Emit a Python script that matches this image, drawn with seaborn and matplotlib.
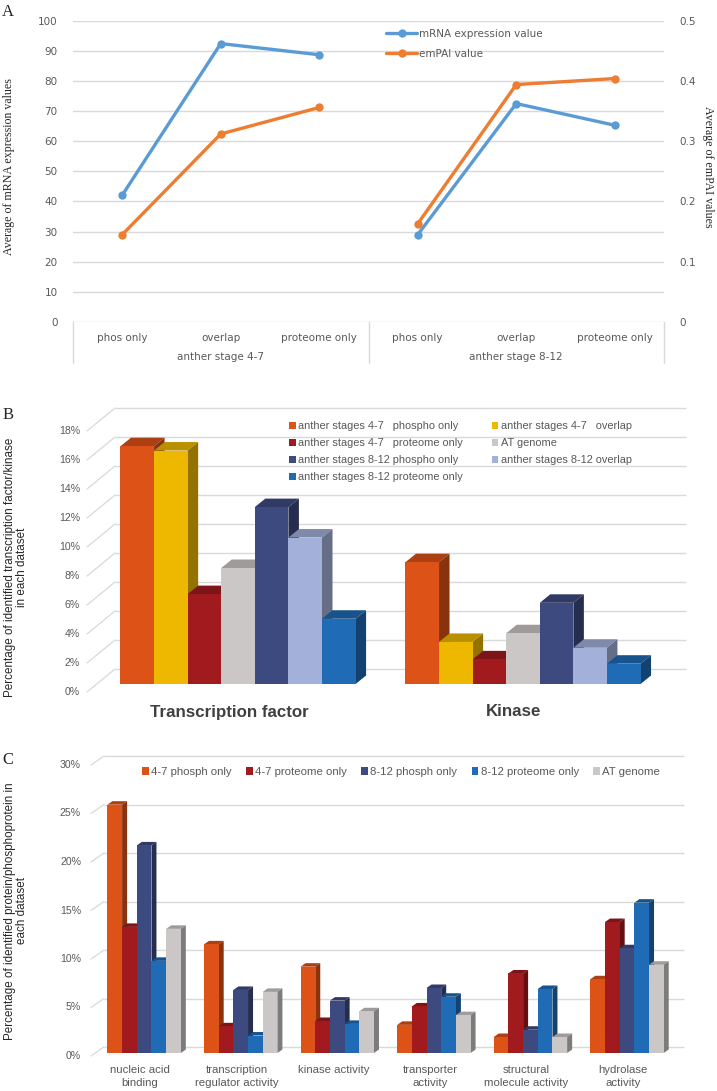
import numpy as np
import pandas as pd
import matplotlib
matplotlib.use("Agg")
import matplotlib.pyplot as plt
import matplotlib.colors as mcolors
import matplotlib.transforms as mtrans
from matplotlib.patches import Polygon, Patch, Rectangle
from matplotlib.lines import Line2D
import seaborn as sns

# ---------------- data ----------------
# Panel A
a_stages = ["anther stage 4-7", "anther stage 8-12"]
a_categories = ["phos only", "overlap", "proteome only"]
a_mrna = [42.1, 92.4, 88.7, 29.0, 72.5, 65.3]
a_empai = [0.145, 0.312, 0.356, 0.163, 0.394, 0.404]
a_left_ticks = [0, 10, 20, 30, 40, 50, 60, 70, 80, 90, 100]
a_right_ticks = [0, 0.1, 0.2, 0.3, 0.4, 0.5]
a_right_ticklabels = ["0", "0.1", "0.2", "0.3", "0.4", "0.5"]

# Panel B
b_categories = ["Transcription factor", "Kinase"]
b_series = ["anther stages 4-7   phospho only", "anther stages 4-7   overlap",
            "anther stages 4-7   proteome only", "AT genome",
            "anther stages 8-12 phospho only", "anther stages 8-12 overlap",
            "anther stages 8-12 proteome only"]
b_tf = [16.4, 16.1, 6.2, 8.0, 12.2, 10.1, 4.5]
b_kinase = [8.4, 2.9, 1.7, 3.5, 5.6, 2.5, 1.4]
b_ticks = [0, 2, 4, 6, 8, 10, 12, 14, 16, 18]

# Panel C
c_categories = ["nucleic acid\nbinding", "transcription\nregulator activity", "kinase activity",
                "transporter\nactivity", "structural\nmolecule activity", "hydrolase\nactivity"]
c_series = ["4-7 phosph only", "4-7 proteome only", "8-12 phosph only", "8-12 proteome only", "AT genome"]
c_phosph47 = [25.6, 11.2, 8.9, 2.9, 1.65, 7.6]
c_prot47 = [13.0, 2.75, 3.3, 4.8, 8.2, 13.5]
c_phosph812 = [21.4, 6.5, 5.4, 6.7, 2.4, 10.8]
c_prot812 = [9.5, 1.8, 3.0, 5.8, 6.6, 15.5]
c_genome = [12.8, 6.3, 4.3, 3.9, 1.65, 9.1]
c_ticks = [0, 5, 10, 15, 20, 25, 30]

# ---------------- style ----------------
BLUE_A = "#5B9BD5"
ORANGE_A = "#ED7D31"
b_colors = ["#DC5217", "#EFB800", "#A01A1E", "#CAC7C6", "#3D4A80", "#A3B0DA", "#1F6BB5"]
c_colors = ["#DC5217", "#A01A1E", "#3D4A80", "#1F6BB5", "#CAC7C6"]
GRID = "#D9D9D9"
TXT = "#595959"

sns.set_style("white")
plt.rcParams["font.family"] = ["Liberation Sans", "DejaVu Sans"]

W, H = 717, 1091
fig = plt.figure(figsize=(W / 100, H / 100), dpi=100)


def axes_px(left, top, right, bottom):
    return fig.add_axes([left / W, 1 - bottom / H, (right - left) / W, (bottom - top) / H])


def pix2data(ax, xp, yp):
    """image pixel (origin top-left) -> data coords of ax"""
    return ax.transData.inverted().transform((xp, H - yp))


def shade(c, f):
    r, g, b = mcolors.to_rgb(c)
    return (r * f, g * f, b * f)


# ================= Panel A =================
axA = axes_px(73, 20.7, 664, 322)
axA2 = axA.twinx()
pos = np.arange(6)
dfA = pd.DataFrame({"pos": pos,
                    "stage": [s for s in a_stages for _ in a_categories],
                    "category": a_categories * 2,
                    "mrna": a_mrna, "empai": a_empai})
for st in a_stages:
    sub = dfA[dfA["stage"] == st]
    sns.lineplot(data=sub, x="pos", y="mrna", ax=axA, color=BLUE_A, linewidth=2.4,
                 marker="o", markersize=6, markeredgewidth=0, zorder=3)
    sns.lineplot(data=sub, x="pos", y="empai", ax=axA2, color=ORANGE_A, linewidth=2.4,
                 marker="o", markersize=6, markeredgewidth=0, zorder=3)

axA.set_xlim(-0.5, 5.5)
axA.set_ylim(0, 100)
axA.set_yticks(a_left_ticks)
axA.set_yticklabels([str(t) for t in a_left_ticks])
axA2.set_ylim(0, 0.5)
axA2.set_yticks(a_right_ticks)
axA2.set_yticklabels(a_right_ticklabels)
for ax in (axA, axA2):
    for s in ax.spines.values():
        s.set_visible(False)
    ax.set_xlabel("")
    ax.set_ylabel("")
    ax.tick_params(length=0, labelsize=7.5, labelcolor=TXT)
    for lab in ax.get_yticklabels():
        lab.set_family("DejaVu Sans")
axA.tick_params(axis="y", pad=11)
axA2.tick_params(axis="y", pad=11)
axA.grid(axis="y", color=GRID, lw=1.0)
axA.grid(axis="x", visible=False)
axA.set_axisbelow(True)
axA.set_xticks(pos)
axA.set_xticklabels(a_categories * 2, family="DejaVu Sans")
axA.tick_params(axis="x", pad=8)
blA = mtrans.blended_transform_factory(axA.transData, axA.transAxes)
for i, st in enumerate(a_stages):
    axA.text(1 + 3 * i, -0.115, st, transform=blA, ha="center", va="center",
             fontsize=7.5, color=TXT, family="DejaVu Sans")
for xv in (-0.5, 2.5, 5.5):
    axA.plot([xv, xv], [0, -0.135], transform=blA, color=GRID, lw=1.0, clip_on=False)

hA = [Line2D([], [], color=BLUE_A, lw=2.4, marker="o", ms=6, mew=0),
      Line2D([], [], color=ORANGE_A, lw=2.4, marker="o", ms=6, mew=0)]
axA2.legend(hA, ["mRNA expression value", "emPAI value"], loc="upper left",
            bbox_to_anchor=(386 / W, 1 - 29 / H), bbox_transform=fig.transFigure,
            frameon=False, borderpad=0, borderaxespad=0, handlelength=3.0,
            handletextpad=0.2, labelspacing=0.95,
            prop={"family": "DejaVu Sans", "size": 7.5}, labelcolor=TXT)

fig.text(9 / W, 1 - 167 / H, "Average of mRNA expression values", rotation=90,
         ha="center", va="center", fontsize=8.6, family="Liberation Serif", color="#262626")
fig.text(708 / W, 1 - 167 / H, "Average of emPAI values", rotation=270,
         ha="center", va="center", fontsize=8.6, family="Liberation Serif", color="#262626")
fig.text(8 / W, 1 - 12 / H, "A", ha="center", va="center", fontsize=12,
         family="Liberation Serif", color="#262626")


# ================= 3D bar helper =================
def bars3d(ax, dfl, order, hue_order, colors, width, xlim, ylim, ticks,
           depth_bar, front_px, back_px, back_left_px, front_left_px, fmt, tick_right_px):
    sns.barplot(data=dfl, x="category", y="value", hue="series", order=order,
                hue_order=hue_order, palette=dict(zip(hue_order, colors)), width=width,
                saturation=1, legend=False, linewidth=0, edgecolor="none", ax=ax)
    ax.set_xlim(*xlim)
    ax.set_ylim(*ylim)
    ax.set_axis_off()
    inv = ax.transData.inverted()
    x0, y0 = inv.transform((0, 0))
    x1, y1 = inv.transform((depth_bar[0], depth_bar[1]))
    dx, dy = x1 - x0, y1 - y0
    _, yb1 = inv.transform((0, back_px))
    _, yf1 = inv.transform((0, front_px))
    dyb = yb1 - y0
    dyf = yf1 - y0
    xbl = pix2data(ax, back_left_px, 0)[0]
    xfl = pix2data(ax, front_left_px, 0)[0]
    xtl = pix2data(ax, tick_right_px, 0)[0]
    # back wall grid + slanted floor edges
    for v in ticks:
        ax.plot([xbl, xlim[1]], [v + dyb, v + dyb], color=GRID, lw=1.0, zorder=1,
                clip_on=False, solid_capstyle="butt")
        ax.plot([xfl, xbl], [v - dyf, v + dyb], color=GRID, lw=0.9, zorder=1, clip_on=False)
        ax.text(xtl, v - dyf, fmt(v), ha="right", va="center", fontsize=7.6,
                color=TXT, clip_on=False)
    rects = sorted([p for p in ax.patches if isinstance(p, Rectangle)], key=lambda p: p.get_x())
    for i, p in enumerate(rects):
        x, w, h = p.get_x(), p.get_width(), p.get_height()
        c = p.get_facecolor()
        p.set_zorder(10 + 3 * i + 2)
        top = Polygon([(x, h), (x + w, h), (x + w + dx, h + dy), (x + dx, h + dy)],
                      closed=True, fc=shade(c, 0.78), ec="none", zorder=10 + 3 * i)
        side = Polygon([(x + w, 0), (x + w, h), (x + w + dx, h + dy), (x + w + dx, dy)],
                       closed=True, fc=shade(c, 0.62), ec="none", zorder=10 + 3 * i + 1)
        ax.add_patch(top)
        ax.add_patch(side)


# ================= Panel B =================
axB = axes_px(87, 408, 686, 692)
dfB = pd.DataFrame({"category": [c for c in b_categories for _ in b_series],
                    "series": b_series * 2,
                    "value": b_tf + b_kinase})
pxB = 14.5
bars3d(axB, dfB, b_categories, b_series, b_colors, 0.825,
       (-0.53, 1.572), (-8 / pxB, (684 - 408) / pxB), b_ticks,
       depth_bar=(10.5, 8.5), front_px=8, back_px=15, back_left_px=115, front_left_px=87,
       fmt=lambda v: f"{v:d}%", tick_right_px=80)
for i, cat in enumerate(b_categories):
    axB.text(i - 9 / 285, pix2data(axB, 0, 712)[1], cat, ha="center", va="center",
             fontsize=12.2, fontweight="bold", color="#404040", clip_on=False)
hB = [Patch(fc=c, ec="none") for c in b_colors]
idx = [0, 2, 4, 6, 1, 3, 5]
axB.legend([hB[i] for i in idx], [b_series[i] for i in idx], ncol=2, loc="upper left",
           bbox_to_anchor=(289 / W, 1 - 421 / H), bbox_transform=fig.transFigure,
           frameon=False, borderpad=0, borderaxespad=0, handlelength=0.6, handleheight=0.6,
           handletextpad=0.25, labelspacing=0.64, columnspacing=2.6,
           prop={"size": 7.9}, labelcolor=TXT)
fig.text(16 / W, 1 - 567 / H,
         "Percentage of identified transcription factor/kinase\nin each dataset",
         rotation=90, ha="center", va="center", fontsize=8.4, color="#262626",
         multialignment="center", linespacing=1.0)
fig.text(8 / W, 1 - 415 / H, "B", ha="center", va="center", fontsize=12,
         family="Liberation Serif", color="#262626")

# ================= Panel C =================
axC = axes_px(91, 756, 684, 1056)
c_values = [c_phosph47, c_prot47, c_phosph812, c_prot812, c_genome]
dfC = pd.DataFrame({"category": [c for c in c_categories for _ in c_series],
                    "series": c_series * len(c_categories),
                    "value": [c_values[j][i] for i in range(len(c_categories)) for j in range(len(c_series))]})
pxC = 9.7
bars3d(axC, dfC, c_categories, c_series, c_colors, 0.76,
       (-0.55, 5.59), (-3 / pxC, (1053 - 756) / pxC), c_ticks,
       depth_bar=(5.0, 3.5), front_px=3, back_px=6, back_left_px=104, front_left_px=91,
       fmt=lambda v: f"{v:d}%", tick_right_px=81)
for i, cat in enumerate(c_categories):
    axC.text(i - 4 / 96.6, pix2data(axC, 0, 1065)[1], cat, ha="center", va="top",
             fontsize=8.2, color=TXT, clip_on=False, linespacing=1.4)
hC = [Patch(fc=c, ec="none") for c in c_colors]
axC.legend(hC, c_series, ncol=5, loc="upper left",
           bbox_to_anchor=(142 / W, 1 - 767 / H), bbox_transform=fig.transFigure,
           frameon=False, borderpad=0, borderaxespad=0, handlelength=0.6, handleheight=0.6,
           handletextpad=0.2, columnspacing=1.25, prop={"size": 8.2}, labelcolor=TXT)
fig.text(16 / W, 1 - 911 / H,
         "Percentage of identified protein/phosphoprotein in\neach dataset",
         rotation=90, ha="center", va="center", fontsize=8.4, color="#262626",
         multialignment="center", linespacing=1.0)
fig.text(8 / W, 1 - 760 / H, "C", ha="center", va="center", fontsize=12,
         family="Liberation Serif", color="#262626")

fig.savefig("out.png", dpi=100, facecolor="white")
